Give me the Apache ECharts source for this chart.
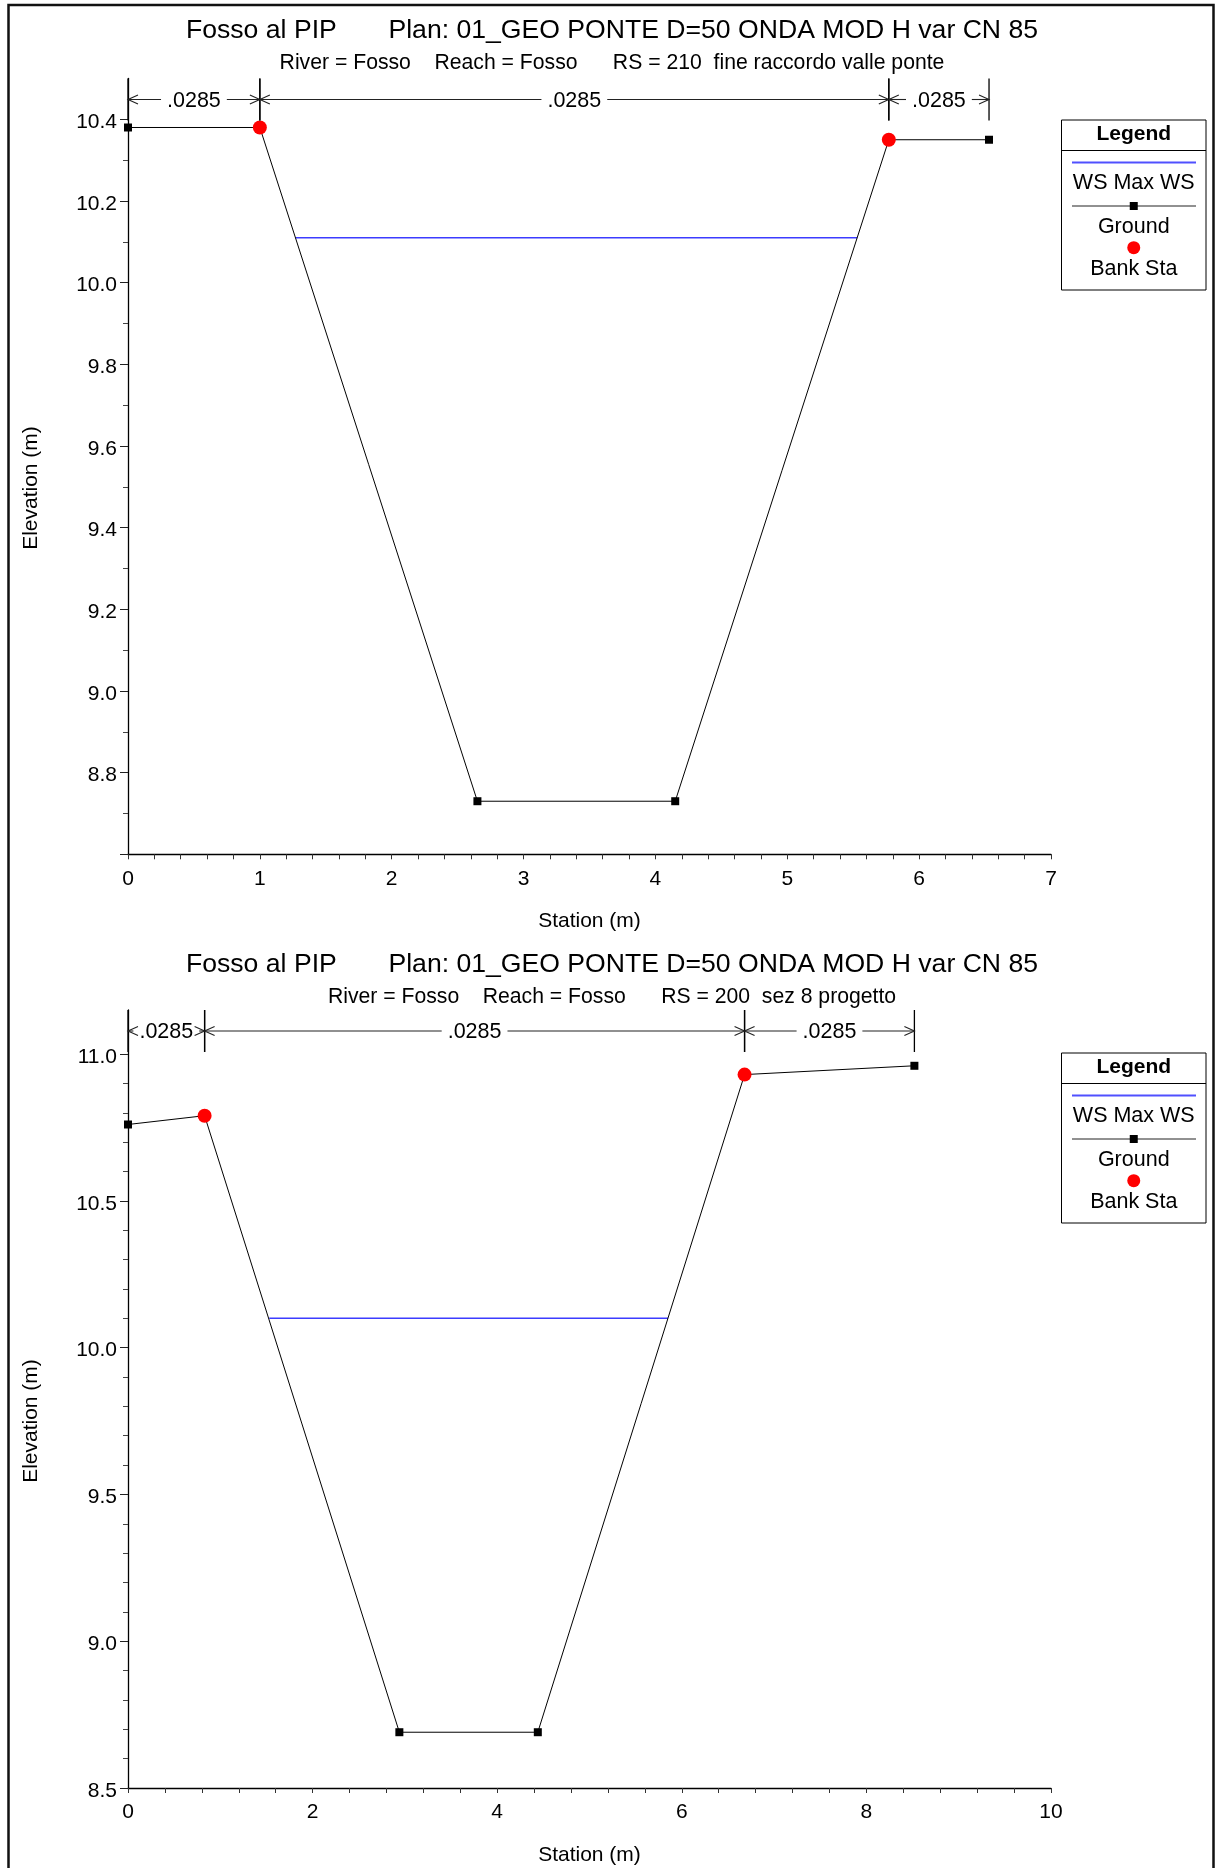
<!DOCTYPE html>
<html>
<head>
<meta charset="utf-8">
<script src="https://cdn.jsdelivr.net/npm/echarts@6/dist/echarts.min.js"></script>
<style>
  html, body { margin: 0; padding: 0; background: #fff; }
  #chart { width: 1216px; height: 1868px; }
</style>
</head>
<body>
<div id="chart"></div>
<script>
// ---- Cross section RS 210 (fine raccordo valle ponte) ----
const stationsA = [0, 1.0, 2.65, 4.15, 5.77, 6.53];
const groundA = [10.38, 10.38, 8.73, 8.73, 10.35, 10.35];
const bankStationsA = [1.0, 5.77];
const bankElevA = [10.38, 10.35];
const wsStationsA = [1.27, 5.53];
const wsElevA = 10.11;
const nBoundsA = [0, 1.0, 5.77, 6.53];
const nValuesA = [0.0285, 0.0285, 0.0285];
const yMajorA = [8.6, 8.8, 9.0, 9.2, 9.4, 9.6, 9.8, 10.0, 10.2, 10.4];
const yLabelsA = [8.8, 9.0, 9.2, 9.4, 9.6, 9.8, 10.0, 10.2, 10.4];
const yMinorA = [8.7, 8.9, 9.1, 9.3, 9.5, 9.7, 9.9, 10.1, 10.3];
const xLabelsA = [0, 1, 2, 3, 4, 5, 6, 7];

// ---- Cross section RS 200 (sez 8 progetto) ----
const stationsB = [0, 0.83, 2.94, 4.44, 6.68, 8.52];
const groundB = [10.76, 10.79, 8.69, 8.69, 10.93, 10.96];
const bankStationsB = [0.83, 6.68];
const bankElevB = [10.79, 10.93];
const wsStationsB = [1.53, 5.85];
const wsElevB = 10.10;
const nBoundsB = [0, 0.83, 6.68, 8.52];
const nValuesB = [0.0285, 0.0285, 0.0285];
const yMajorB = [8.5, 9.0, 9.5, 10.0, 10.5, 11.0];
const yLabelsB = [8.5, 9.0, 9.5, 10.0, 10.5, 11.0];
const yMinorB = [8.6, 8.7, 8.8, 8.9, 9.1, 9.2, 9.3, 9.4, 9.6, 9.7, 9.8, 9.9,
                 10.1, 10.2, 10.3, 10.4, 10.6, 10.7, 10.8, 10.9];
const xLabelsB = [0, 2, 4, 6, 8, 10];

const titleMain = 'Fosso al PIP       Plan: 01_GEO PONTE D=50 ONDA MOD H var CN 85';
const subtitleA = 'River = Fosso    Reach = Fosso      RS = 210  fine raccordo valle ponte';
const subtitleB = 'River = Fosso    Reach = Fosso      RS = 200  sez 8 progetto';
const seriesNames = ['WS Max WS', 'Ground', 'Bank Sta'];

const FONT = '"Liberation Sans", Arial, Helvetica, sans-serif';
const WS_COLOR = '#3c3cff';
const LABEL_SIZE = 21;

const measureCtx = document.createElement('canvas').getContext('2d');
function textWidth(s, size) {
  measureCtx.font = size + 'px ' + FONT;
  return measureCtx.measureText(s).width;
}
function nLabel(v) { return String(v).replace(/^0\./, '.'); }
function zip(xs, ys) { return xs.map((x, i) => [x, ys[i]]); }
function near(v, list) { return list.some(t => Math.abs(t - v) < 1e-6); }

// Manning's n bands drawn along the top of the plot: boundary bars, arrows and value text
function nValueRenderer(params, api) {
  const cs = params.coordSys;
  const xa = api.coord([api.value(0), 0])[0];
  const xb = api.coord([api.value(1), 0])[0];
  const top = cs.y;
  const y = top + 21;
  const label = nLabel(api.value(2));
  const size = 21.5;
  const tw = textWidth(label, size);
  const cx = (xa + xb) / 2;
  const stroke = { stroke: '#222', lineWidth: 1.1 };
  const children = [
    { type: 'line', shape: { x1: xa, y1: top, x2: xa, y2: top + 42 }, style: { stroke: '#000', lineWidth: 1.3 } },
    { type: 'line', shape: { x1: xb, y1: top, x2: xb, y2: top + 42 }, style: { stroke: '#000', lineWidth: 1.3 } },
    { type: 'polyline', shape: { points: [[xa + 10, y - 4.5], [xa, y], [xa + 10, y + 4.5]] }, style: Object.assign({ fill: null }, stroke) },
    { type: 'polyline', shape: { points: [[xb - 10, y - 4.5], [xb, y], [xb - 10, y + 4.5]] }, style: Object.assign({ fill: null }, stroke) },
    { type: 'text', x: cx, y: y + 1.5, style: { text: label, font: size + 'px ' + FONT, fill: '#000', align: 'center', verticalAlign: 'middle' } }
  ];
  const lEnd = cx - tw / 2 - 6;
  const rStart = cx + tw / 2 + 6;
  if (lEnd > xa) children.push({ type: 'line', shape: { x1: xa, y1: y, x2: lEnd, y2: y }, style: stroke });
  if (rStart < xb) children.push({ type: 'line', shape: { x1: rStart, y1: y, x2: xb, y2: y }, style: stroke });
  return { type: 'group', children: children };
}

function legendBox(top) {
  const L = 1061.5, W = 144.5, cx = L + W / 2;
  const txt = (t, yy, bold) => ({
    type: 'text', x: cx, y: yy,
    style: { text: t, font: (bold ? 'bold 21px ' : '21.5px ') + FONT, fill: '#000', align: 'center', verticalAlign: 'middle' }
  });
  return {
    type: 'group', z: 100,
    children: [
      { type: 'rect', shape: { x: L, y: top, width: W, height: 170 }, style: { fill: '#fff', stroke: '#000', lineWidth: 1 } },
      txt('Legend', top + 14, true),
      { type: 'line', shape: { x1: L, y1: top + 30.5, x2: L + W, y2: top + 30.5 }, style: { stroke: '#000', lineWidth: 1 } },
      { type: 'line', shape: { x1: L + 10.5, y1: top + 42.5, x2: L + 134.5, y2: top + 42.5 }, style: { stroke: '#5050ff', lineWidth: 2 } },
      txt(seriesNames[0], top + 63.5),
      { type: 'line', shape: { x1: L + 10.5, y1: top + 86, x2: L + 134.5, y2: top + 86 }, style: { stroke: '#222', lineWidth: 1 } },
      { type: 'rect', shape: { x: cx - 4, y: top + 82, width: 8, height: 8 }, style: { fill: '#000' } },
      txt(seriesNames[1], top + 107),
      { type: 'circle', shape: { cx: cx, cy: top + 127.7, r: 6.5 }, style: { fill: '#ff0000' } },
      txt(seriesNames[2], top + 149)
    ]
  };
}

function headerTexts(yTitle, ySub, sub) {
  return [
    { type: 'text', x: 612, y: yTitle, style: { text: titleMain, font: '26.6px ' + FONT, fill: '#000', align: 'center', verticalAlign: 'middle' } },
    { type: 'text', x: 612, y: ySub, style: { text: sub, font: '21.2px ' + FONT, fill: '#000', align: 'center', verticalAlign: 'middle' } }
  ];
}
function axisNames(yCenterElev, yStation) {
  return [
    { type: 'text', x: 31, y: yCenterElev, rotation: Math.PI / 2, style: { text: 'Elevation (m)', font: LABEL_SIZE + 'px ' + FONT, fill: '#000', align: 'center', verticalAlign: 'middle' } },
    { type: 'text', x: 589.5, y: yStation, style: { text: 'Station (m)', font: LABEL_SIZE + 'px ' + FONT, fill: '#000', align: 'center', verticalAlign: 'middle' } }
  ];
}

function xAxisDef(gridIndex, max, interval, labels) {
  return {
    type: 'value', gridIndex: gridIndex, min: 0, max: max, interval: interval, position: 'bottom',
    axisLine: { show: true, onZero: false, lineStyle: { color: '#000', width: 1.3 } },
    axisTick: { show: true, length: 5, inside: false, lineStyle: { color: '#333', width: 1 } },
    axisLabel: { show: true, margin: 14, color: '#000', fontSize: LABEL_SIZE, fontFamily: FONT,
      formatter: v => near(v, labels) ? String(Math.round(v)) : '',
      showMinLabel: true, showMaxLabel: true, hideOverlap: false },
    splitLine: { show: false }
  };
}
function yAxisMinor(gridIndex, min, max, minorTicks) {
  return {
    type: 'value', gridIndex: gridIndex, min: min, max: max, interval: 0.1, position: 'left',
    axisLine: { show: true, onZero: false, lineStyle: { color: '#000', width: 1.3 } },
    axisTick: { show: true, length: 5, customValues: minorTicks, lineStyle: { color: '#444', width: 1 } },
    axisLabel: { show: false },
    splitLine: { show: false }
  };
}
function yAxisMajor(gridIndex, min, max, interval, majorTicks, labels) {
  return {
    type: 'value', gridIndex: gridIndex, min: min, max: max, interval: interval, position: 'left',
    axisLine: { show: false },
    axisTick: { show: true, length: 8, customValues: majorTicks, lineStyle: { color: '#222', width: 1 } },
    axisLabel: { show: true, margin: 11, color: '#000', fontSize: LABEL_SIZE, fontFamily: FONT, customValues: labels,
      verticalAlign: 'top', lineHeight: 6,
      formatter: v => near(v, labels) ? v.toFixed(1) : '', showMinLabel: true, showMaxLabel: true, hideOverlap: false },
    splitLine: { show: false }
  };
}

function sectionSeries(xi, yi, stations, ground, bankSt, bankEl, wsSt, wsEl, nBounds, nValues) {
  return [
    { name: seriesNames[0], type: 'line', xAxisIndex: xi, yAxisIndex: yi, silent: true,
      data: zip(wsSt, wsSt.map(() => wsEl)), showSymbol: false,
      lineStyle: { color: WS_COLOR, width: 1.6 }, itemStyle: { color: WS_COLOR }, z: 2 },
    { name: seriesNames[1], type: 'line', xAxisIndex: xi, yAxisIndex: yi, silent: true,
      data: zip(stations, ground), symbol: 'rect', symbolSize: 8, showAllSymbol: true,
      lineStyle: { color: '#000', width: 1 }, itemStyle: { color: '#000' }, z: 3 },
    { name: seriesNames[2], type: 'scatter', xAxisIndex: xi, yAxisIndex: yi, silent: true,
      data: zip(bankSt, bankEl), symbol: 'circle', symbolSize: 14,
      itemStyle: { color: '#ff0000', opacity: 1 }, z: 4 },
    { type: 'custom', xAxisIndex: xi, yAxisIndex: yi, silent: true, clip: false,
      data: nValues.map((n, i) => [nBounds[i], nBounds[i + 1], n]),
      encode: { x: [0, 1] }, renderItem: nValueRenderer, z: 5 }
  ];
}

const chart = echarts.init(document.getElementById('chart'), null, { renderer: 'canvas', width: 1216, height: 1868 });

const option = {
  animation: false,
  backgroundColor: '#ffffff',
  textStyle: { fontFamily: FONT },
  grid: [
    { left: 128, top: 78.5, width: 923, height: 775.8, outerBoundsMode: 'none', containLabel: false },
    { left: 128, top: 1010, width: 923, height: 778, outerBoundsMode: 'none', containLabel: false }
  ],
  xAxis: [
    xAxisDef(0, 7, 0.2, xLabelsA),
    xAxisDef(1, 10, 0.4, xLabelsB)
  ],
  yAxis: [
    yAxisMinor(0, 8.6, 10.5, yMinorA),
    yAxisMajor(0, 8.6, 10.5, 0.2, yMajorA, yLabelsA),
    yAxisMinor(1, 8.5, 11.15, yMinorB),
    yAxisMajor(1, 8.5, 11.15, 0.5, yMajorB, yLabelsB)
  ],
  series: [].concat(
    sectionSeries(0, 0, stationsA, groundA, bankStationsA, bankElevA, wsStationsA, wsElevA, nBoundsA, nValuesA),
    sectionSeries(1, 2, stationsB, groundB, bankStationsB, bankElevB, wsStationsB, wsElevB, nBoundsB, nValuesB)
  ),
  graphic: [].concat(
    [{ type: 'rect', z: 200, shape: { x: 8.5, y: 5, width: 1205, height: 1900 }, style: { fill: null, stroke: '#111', lineWidth: 2.5 } }],
    headerTexts(31, 63, subtitleA),
    headerTexts(964.5, 997, subtitleB),
    axisNames(488, 921.5),
    axisNames(1421, 1855),
    [legendBox(120), legendBox(1053)]
  )
};
chart.setOption(option);
</script>
</body>
</html>
